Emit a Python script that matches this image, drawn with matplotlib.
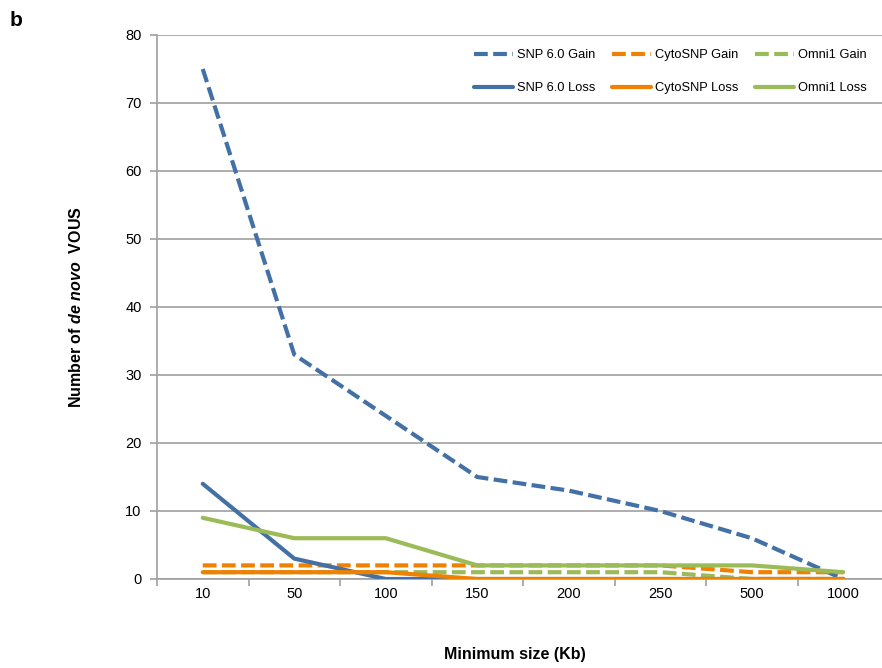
import matplotlib
matplotlib.use("Agg")
from matplotlib import pyplot as plt
import numpy as np

plt.rcParams.update({
    "font.family": ["Liberation Sans", "DejaVu Sans"],
    "mathtext.fontset": "custom",
    "mathtext.it": "Liberation Sans:italic:bold",
    "mathtext.rm": "Liberation Sans:bold",
})

# data
sizes = ['10', '50', '100', '150', '200', '250', '500', '1000']
snp_gain = [75, 33, 24, 15, 13, 10, 6, 0]
cyto_gain = [2, 2, 2, 2, 2, 2, 1, 1]
omni_gain = [1, 1, 1, 1, 1, 1, 0, 0]
snp_loss = [14, 3, 0, 0, 0, 0, 0, 0]
cyto_loss = [1, 1, 1, 0, 0, 0, 0, 0]
omni_loss = [9, 6, 6, 2, 2, 2, 2, 1]

blue = '#4371A6'
orange = '#F08000'
green = '#9BBB59'
grey = '#A0A0A0'

fig = plt.figure(figsize=(8.82, 6.68), dpi=100)
ax = fig.add_axes([157/882, 89/668, 732/882, 544/668])

x = np.arange(len(sizes)) + 0.5
dash = (3.3, 1.3)
series = [
    (snp_gain, blue, 'SNP 6.0 Gain', True),
    (cyto_gain, orange, 'CytoSNP Gain', True),
    (omni_gain, green, 'Omni1 Gain', True),
    (snp_loss, blue, 'SNP 6.0 Loss', False),
    (cyto_loss, orange, 'CytoSNP Loss', False),
    (omni_loss, green, 'Omni1 Loss', False),
]
handles = {}
for i, (vals, col, lab, dashed) in enumerate(series):
    ln, = ax.plot(x, vals, color=col, lw=3, label=lab, zorder=3 + i,
                  solid_capstyle='round', dash_capstyle='butt')
    if dashed:
        ln.set_dashes(dash)
    handles[lab] = ln

ax.set_xlim(0, len(sizes))
ax.set_ylim(0, 80)
ax.set_yticks(range(0, 81, 10))
ax.yaxis.grid(True, color=grey, lw=1.2)
ax.set_axisbelow(True)

ax.set_xticks(range(len(sizes) + 1))
ax.set_xticklabels([])
ax.set_xticks(x, minor=True)
ax.set_xticklabels(sizes, minor=True)
ax.tick_params(axis='x', which='minor', length=0, pad=6, labelsize=10.5)
ax.tick_params(axis='x', which='major', length=5, color=grey, width=1.2, direction='out')
ax.tick_params(axis='y', length=5, color=grey, width=1.2, labelsize=10.5, direction='out', pad=6)

for s in ['top', 'right']:
    ax.spines[s].set_visible(False)
for s in ['left', 'bottom']:
    ax.spines[s].set_color(grey)
    ax.spines[s].set_linewidth(1.2)

order = ['SNP 6.0 Gain', 'SNP 6.0 Loss', 'CytoSNP Gain', 'CytoSNP Loss', 'Omni1 Gain', 'Omni1 Loss']
ax.legend([handles[k] for k in order], order, ncol=3, frameon=False, fontsize=9.3,
          loc='upper right', bbox_to_anchor=(0.985, 0.995), handlelength=3.0,
          handletextpad=0.3, columnspacing=1.3, labelspacing=1.6)

ax.set_ylabel(r"Number of $\mathit{de\ novo}$  VOUS", fontsize=11.5, fontweight='bold', labelpad=30)
fig.text(515/882, 1 - 655/668, 'Minimum size (Kb)', fontsize=11.5, fontweight='bold',
         ha='center', va='center')
fig.text(10/882, 1 - 20/668, 'b', fontsize=15, fontweight='bold', va='center')

plt.savefig('out.png', dpi=100)
